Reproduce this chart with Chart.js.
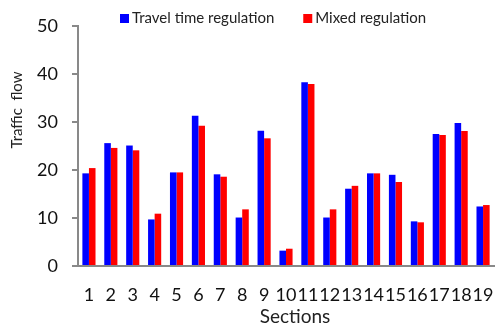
<!DOCTYPE html>
<html>
<head>
<meta charset="utf-8">
<script src="https://cdn.jsdelivr.net/npm/chart.js@4/dist/chart.umd.min.js"></script>
<style>
  html, body { margin: 0; padding: 0; background: #fff; }
  .chart-container { position: relative; width: 495px; height: 328px; }
</style>
</head>
<body>
<div class="chart-container"><canvas id="barChart"></canvas></div>
<script>
// Dados do gráfico
const sections = ['1', '2', '3', '4', '5', '6', '7', '8', '9', '10',
                  '11', '12', '13', '14', '15', '16', '17', '18', '19'];
const travelTime = [19.3, 25.6, 25.1, 9.7, 19.5, 31.3, 19.1, 10.1, 28.2, 3.2,
                    38.3, 10.1, 16.1, 19.3, 19.0, 9.3, 27.5, 29.8, 12.4];
const mixed = [20.4, 24.6, 24.1, 10.9, 19.5, 29.2, 18.6, 11.8, 26.6, 3.6,
               37.9, 11.8, 16.7, 19.3, 17.5, 9.1, 27.3, 28.1, 12.7];
const yTicks = [0, 10, 20, 30, 40, 50];

const fontFamily = 'Lato, "Open Sans", sans-serif';
const axisColor = '#898989';
const textColor = '#222';

// legenda e títulos dos eixos desenhados à mão, para bater com o original
const extrasPlugin = {
    id: 'extras',
    afterDraw(chart) {
        const ctx = chart.ctx;
        const area = chart.chartArea;
        ctx.save();
        ctx.fillStyle = textColor;
        ctx.textBaseline = 'middle';

        // legenda
        ctx.font = '15px ' + fontFamily;
        ctx.textAlign = 'left';
        let x = 120;
        chart.data.datasets.forEach(ds => {
            ctx.fillStyle = ds.backgroundColor;
            ctx.fillRect(x, 14, 9, 9);
            ctx.fillStyle = textColor;
            ctx.fillText(ds.label, x + 12, 18.5);
            x += 12 + ctx.measureText(ds.label).width + 29;
        });

        // título do eixo x
        ctx.font = '19px ' + fontFamily;
        ctx.textAlign = 'center';
        ctx.fillText('Sections', 295, 317);

        // título do eixo y (fica acima do centro no original)
        ctx.translate(17, area.top + (area.bottom - area.top) * 0.35);
        ctx.rotate(-Math.PI / 2);
        ctx.font = '15px ' + fontFamily;
        ctx.fillText('Traffic  flow', 0, 0);
        ctx.restore();
    }
};

const barConfig = {
    type: 'bar',
    data: {
        labels: sections,
        datasets: [
            { label: 'Travel time regulation', data: travelTime, backgroundColor: '#0000ff' },
            { label: 'Mixed regulation', data: mixed, backgroundColor: '#ff0000' }
        ]
    },
    options: {
        responsive: true,
        maintainAspectRatio: false,
        animation: false,
        datasets: {
            bar: { categoryPercentage: 0.6, barPercentage: 1.0 }
        },
        layout: { padding: { left: 0, right: 1, top: 26, bottom: 0 } },
        plugins: {
            legend: { display: false },
            tooltip: { enabled: false }
        },
        scales: {
            x: {
                grid: { display: false, drawTicks: false },
                border: { display: true, color: axisColor, width: 2 },
                ticks: {
                    autoSkip: false,
                    maxRotation: 0,
                    minRotation: 0,
                    padding: 18,
                    color: '#111',
                    font: { family: fontFamily, size: 18 }
                },
                afterFit: function(scale) {
                    scale.height = 62;
                    scale.paddingLeft = 0;
                    scale.paddingRight = 0;
                }
            },
            y: {
                min: 0,
                max: 50,
                afterBuildTicks: function(scale) {
                    scale.ticks = yTicks.map(v => ({ value: v }));
                },
                grid: {
                    display: true,
                    drawOnChartArea: false,
                    drawTicks: true,
                    tickLength: 6,
                    color: axisColor,
                    lineWidth: 2
                },
                border: { display: true, color: axisColor, width: 2 },
                ticks: {
                    padding: 14,
                    color: '#111',
                    font: { family: fontFamily, size: 18 }
                },
                afterFit: function(scale) { scale.width = 78; }
            }
        }
    },
    plugins: [extrasPlugin]
};

const barChart = new Chart(document.getElementById('barChart'), barConfig);
</script>
</body>
</html>
